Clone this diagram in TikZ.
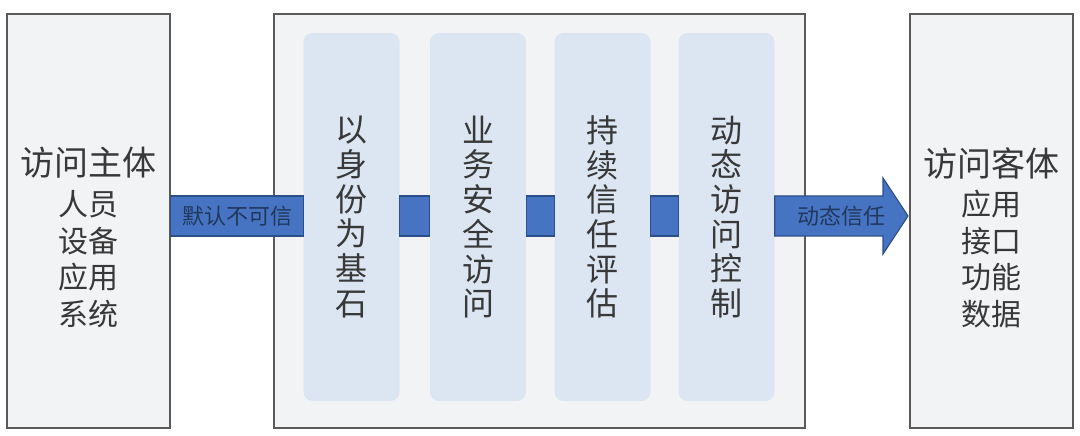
\documentclass[tikz,border=0pt]{standalone}
\usepackage{fontspec}
\setmainfont{Noto Sans CJK SC}
\usetikzlibrary{fit}
\definecolor{boxfill}{HTML}{F2F3F5}
\definecolor{boxline}{HTML}{5A5A5A}
\definecolor{pillarfill}{HTML}{DCE6F2}
\definecolor{bandblue}{HTML}{4674C2}
\definecolor{banddark}{HTML}{2C4F8A}
\definecolor{bandtext}{HTML}{22375C}
\definecolor{textgray}{HTML}{383838}
\tikzstyle{party}=[draw=boxline, fill=boxfill, line width=1.5pt, minimum width=163pt, minimum height=414pt]
\tikzstyle{core}=[party, minimum width=531pt]
\tikzstyle{pillar}=[fill=pillarfill, rounded corners=9pt, minimum width=96pt, minimum height=368pt, align=center, text=textgray, font=\fontsize{32}{34.7}\selectfont]
\tikzstyle{band}=[draw=banddark, fill=bandblue, line width=1.2pt]
\tikzstyle{band text}=[text=bandtext, font=\fontsize{22}{22}\selectfont, inner sep=0]
\tikzstyle{title text}=[text=textgray, font=\fontsize{34}{34}\selectfont]
\tikzstyle{list text}=[text=textgray, align=center, font=\fontsize{30}{36.5}\selectfont]

\begin{document}
\begin{tikzpicture}[x=1pt, y=1pt]
      \useasboundingbox (0, 0) rectangle (1080, 436);

      \node[party] (subject) at (88.5, 215) {};
      \node[core] (core) at (539.5, 215) {};
      \node[party] (object) at (991.5, 215) {};

      \node[pillar] (p1) at (351.5, 219) {以\\身\\份\\为\\基\\石};
      \node[pillar] (p2) at (478, 219) {业\\务\\安\\全\\访\\问};
      \node[pillar] (p3) at (602.5, 219) {持\\续\\信\\任\\评\\估};
      \node[pillar] (p4) at (726.5, 219) {动\\态\\访\\问\\控\\制};

      \coordinate (band_N) at (0, 240);
      \coordinate (band_M) at (0, 220);
      \coordinate (band_S) at (0, 200);
      \coordinate (head_N) at (883, 258);
      \coordinate (head_S) at (883, 182);
      \coordinate (tip) at (908, 220);

      \draw[band] (subject.east |- band_N) rectangle (p1.west |- band_S);
      \path (subject.east |- band_M) to node[band text] (untrusted) {默认不可信} (p1.west |- band_M);
      \foreach \a/\b in {p1/p2, p2/p3, p3/p4}
        \draw[band] (\a.east |- band_N) rectangle (\b.west |- band_S);
      \draw[band] (p4.east |- band_N)
        -- (head_N |- band_N) -- (head_N) -- (tip) -- (head_S)
        -- (head_S |- band_S) -- (p4.east |- band_S) -- cycle;
      \path (p4.east |- band_M) to node[band text] (trust) {动态信任} (tip);

      \node[title text] (subject_title) at ([yshift=58]subject.center) {访问主体};
      \node[list text] (subject_list) at ([yshift=-38]subject.center) {人员\\设备\\应用\\系统};
      \node[title text] (object_title) at ([yshift=58]object.center) {访问客体};
      \node[list text] (object_list) at ([yshift=-38]object.center) {应用\\接口\\功能\\数据};
    \end{tikzpicture}
\end{document}
